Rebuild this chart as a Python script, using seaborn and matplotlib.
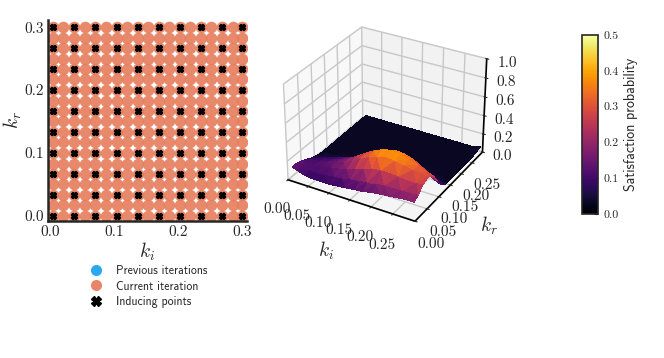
import numpy as np
import pandas as pd
import seaborn as sns
import matplotlib
matplotlib.use("Agg")
import matplotlib.pyplot as plt
from mpl_toolkits.mplot3d import Axes3D  # noqa

# orange grid of the current iteration
grid_ki = [0.005, 0.021, 0.038, 0.054, 0.071, 0.087, 0.104, 0.120, 0.137, 0.153,
           0.170, 0.186, 0.203, 0.219, 0.236, 0.252, 0.269, 0.285, 0.300]
grid_kr = [0.000, 0.017, 0.033, 0.050, 0.067, 0.083, 0.100, 0.117, 0.133, 0.150,
           0.167, 0.183, 0.200, 0.217, 0.233, 0.250, 0.267, 0.283, 0.300]
# inducing points
ind_ki = [0.005, 0.038, 0.071, 0.104, 0.137, 0.170, 0.203, 0.236, 0.269, 0.300]
ind_kr = [0.000, 0.033, 0.067, 0.100, 0.133, 0.167, 0.200, 0.233, 0.267, 0.300]

# satisfaction probability, rows = kr, columns = ki
surf_ki = [0.008, 0.02, 0.04, 0.06, 0.08, 0.10, 0.12, 0.14, 0.16, 0.18, 0.20, 0.22, 0.24, 0.26, 0.28, 0.295]
surf_kr = [0.005, 0.02, 0.04, 0.06, 0.08, 0.10, 0.12, 0.14, 0.16, 0.18, 0.20, 0.22, 0.24, 0.26, 0.28, 0.30]
surf_p = [
    [.14, .12, .09, .08, .08, .08, .09, .10, .11, .12, .14, .15, .16, .17, .18, .18],
    [.14, .13, .11, .10, .11, .12, .13, .15, .16, .18, .19, .20, .20, .20, .21, .21],
    [.12, .12, .12, .13, .14, .16, .18, .21, .24, .27, .28, .28, .27, .26, .26, .27],
    [.09, .10, .11, .13, .15, .18, .22, .27, .32, .35, .37, .36, .34, .32, .31, .30],
    [.06, .07, .09, .11, .14, .18, .23, .29, .34, .38, .39, .38, .36, .33, .29, .27],
    [.04, .04, .06, .08, .11, .14, .19, .24, .29, .33, .35, .34, .31, .26, .21, .17],
    [.03, .03, .03, .04, .06, .08, .11, .15, .19, .22, .24, .23, .20, .15, .10, .07],
    [.03, .03, .03, .03, .03, .04, .06, .08, .10, .11, .12, .11, .09, .06, .04, .03],
    [.03, .03, .03, .03, .03, .03, .03, .03, .04, .05, .05, .04, .04, .03, .03, .03],
    [.03, .03, .03, .03, .03, .03, .03, .03, .03, .03, .03, .03, .03, .03, .03, .03],
    [.03, .03, .03, .03, .03, .03, .03, .03, .03, .03, .03, .03, .03, .03, .03, .03],
    [.03, .03, .03, .03, .03, .03, .03, .03, .03, .03, .03, .03, .03, .03, .03, .03],
    [.03, .03, .03, .03, .03, .03, .03, .03, .03, .03, .03, .03, .03, .03, .03, .03],
    [.03, .03, .03, .03, .03, .03, .03, .03, .03, .03, .03, .03, .03, .03, .03, .03],
    [.03, .03, .03, .03, .03, .03, .03, .03, .03, .03, .03, .03, .03, .03, .03, .04],
    [.03, .03, .03, .03, .03, .03, .03, .03, .03, .03, .03, .03, .03, .03, .03, .05],
]

legend_labels = ["Previous iterations", "Current iteration", "Inducing points"]
color_prev = "#2CA8F0"
color_cur = "#E8866A"

sns.set_style("ticks")
plt.rcParams["font.family"] = ["cmr10", "DejaVu Sans"]
plt.rcParams["mathtext.fontset"] = "cm"
plt.rcParams["axes.formatter.use_mathtext"] = True
plt.rcParams["grid.color"] = "#c8c8c8"
plt.rcParams["grid.linewidth"] = 1.0

W, H = 664, 358
fig = plt.figure(figsize=(W / 100, H / 100), dpi=100)


def box(x0, y0, x1, y1):
    return [x0 / W, 1 - y1 / H, (x1 - x0) / W, (y1 - y0) / H]


# left panel
ax = fig.add_axes(box(48, 20, 247, 221))
gx, gy = np.meshgrid(grid_ki, grid_kr)
cur = pd.DataFrame({"ki": gx.ravel(), "kr": gy.ravel()})
ix, iy = np.meshgrid(ind_ki, ind_kr)
ind = pd.DataFrame({"ki": ix.ravel(), "kr": iy.ravel()})
sns.scatterplot(data=cur, x="ki", y="kr", ax=ax, color="#E67F5F", alpha=0.92, s=70, linewidth=0, zorder=2)
sns.scatterplot(data=ind, x="ki", y="kr", ax=ax, color="black", marker="X", s=16, linewidth=1.4, edgecolor="black", zorder=3)
ax.set_xlim(-0.003, 0.3075)
ax.set_ylim(-0.0085, 0.3115)
ax.set_xticks([0.0, 0.1, 0.2, 0.3])
ax.set_yticks([0.0, 0.1, 0.2, 0.3])
ax.set_xticklabels(["0.0", "0.1", "0.2", "0.3"])
ax.set_yticklabels(["0.0", "0.1", "0.2", "0.3"])
ax.tick_params(labelsize=11, length=0, pad=3)
ax.set_xlabel("$k_i$", fontsize=14, labelpad=1)
ax.set_ylabel("$k_r$", fontsize=14, labelpad=0)
for s in ["top", "right"]:
    ax.spines[s].set_visible(False)
for s in ["left", "bottom"]:
    ax.spines[s].set_linewidth(1.8)

handles = [
    plt.Line2D([], [], ls="", marker="o", ms=8, mew=0, color=color_prev),
    plt.Line2D([], [], ls="", marker="o", ms=8, mew=0, color=color_cur),
    plt.Line2D([], [], ls="", marker="X", ms=7, mew=1, color="black"),
]
fig.legend(handles, legend_labels, loc="upper left", bbox_to_anchor=(84 / W, 1 - 265 / H), frameon=False,
           prop={"family": "cmss10", "size": 8.5}, labelspacing=0.3, handletextpad=0.71, borderaxespad=0, borderpad=0)

# 3d panel
ax3 = fig.add_axes(box(266.5, 9.5, 501.5, 235.5), projection="3d")
px, py = np.meshgrid(surf_ki, surf_kr)
ax3.plot_trisurf(px.ravel(), py.ravel(), np.array(surf_p).ravel(), cmap=sns.color_palette("inferno", as_cmap=True),
                 vmin=0, vmax=0.5, linewidth=0, antialiased=False)
ax3.set_xlim(0, 0.3)
ax3.set_ylim(0, 0.3)
ax3.set_zlim(0, 1)
ax3.set_xticks([0.0, 0.05, 0.10, 0.15, 0.20, 0.25])
ax3.set_yticks([0.0, 0.05, 0.10, 0.15, 0.20, 0.25])
ax3.set_zticks([0.0, 0.2, 0.4, 0.6, 0.8, 1.0])
ax3.set_xticklabels(["0.00", "0.05", "0.10", "0.15", "0.20", "0.25"])
ax3.set_yticklabels(["0.00", "0.05", "0.10", "0.15", "0.20", "0.25"])
ax3.set_zticklabels(["0.0", "0.2", "0.4", "0.6", "0.8", "1.0"])
ax3.tick_params(labelsize=11, pad=1)
ax3.tick_params(axis="x", pad=4)
ax3.tick_params(axis="y", pad=2)
for axis in [ax3.xaxis, ax3.yaxis, ax3.zaxis]:
    axis.line.set_color("black")
    axis.line.set_linewidth(1.2)
    axis.set_rotate_label(False)
ax3.set_xlabel("$k_i$", fontsize=14, labelpad=5, rotation=0)
ax3.set_ylabel("$k_r$", fontsize=14, labelpad=5, rotation=0)

# colorbar
cax = fig.add_axes(box(582, 35, 598, 214))
sm = plt.cm.ScalarMappable(cmap=sns.color_palette("inferno", as_cmap=True), norm=plt.Normalize(0, 0.5))
cb = fig.colorbar(sm, cax=cax)
cb.set_ticks([0.0, 0.1, 0.2, 0.3, 0.4, 0.5])
cb.set_ticklabels(["0.0", "0.1", "0.2", "0.3", "0.4", "0.5"])
cb.ax.tick_params(labelsize=8.5, length=3, direction="in", pad=4)
cb.outline.set_linewidth(1.2)
cb.set_label("Satisfaction probability", family="cmss10", fontsize=10, labelpad=4)

fig.savefig("out.png", dpi=100)
